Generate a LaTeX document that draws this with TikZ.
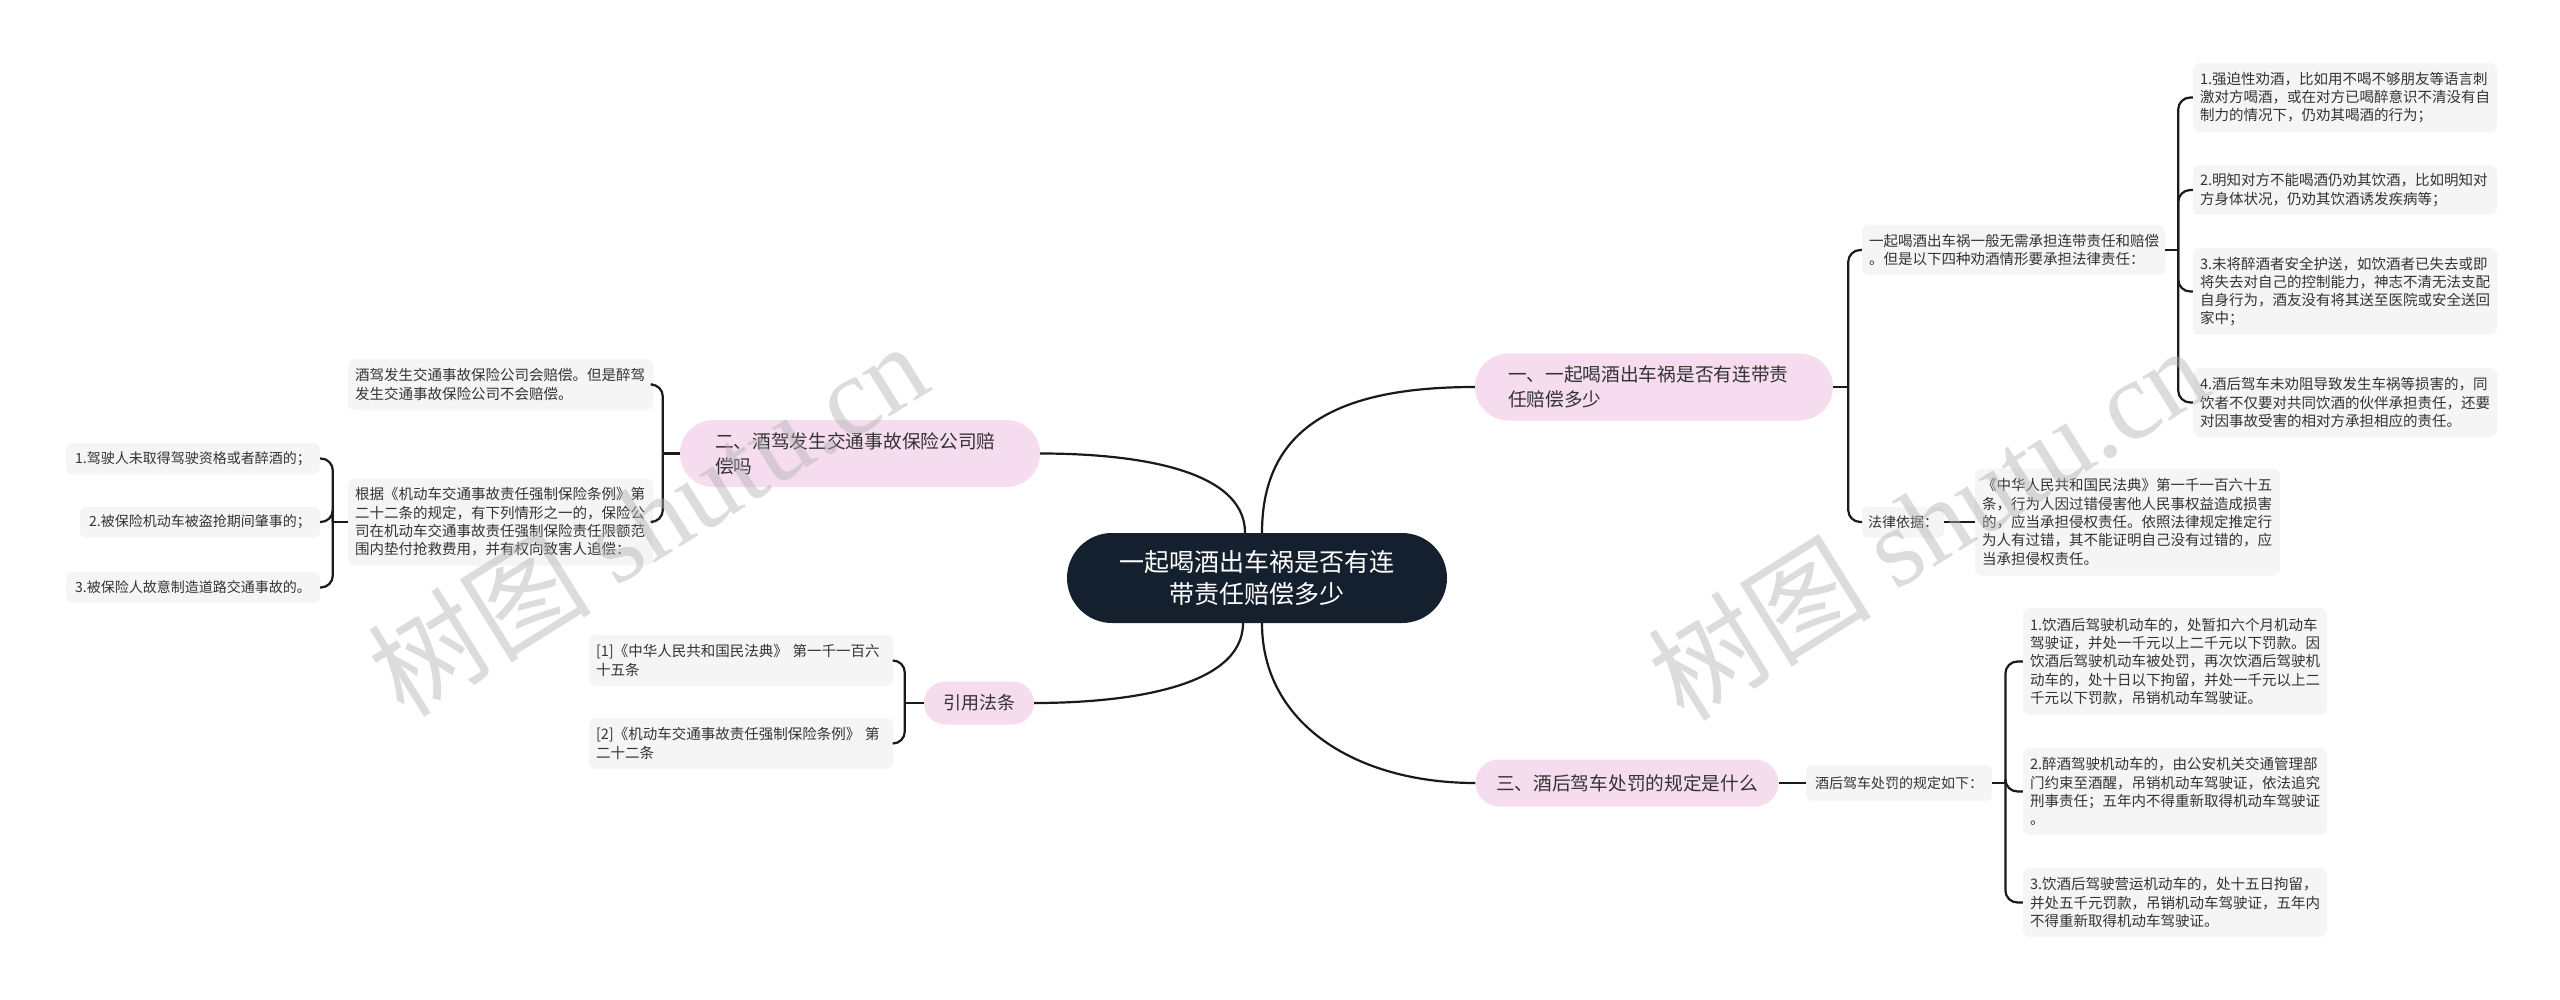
\documentclass[tikz,border=0pt]{standalone}
\usepackage{fontspec}
\setmainfont{Noto Sans CJK SC}
\newfontfamily\wmserif{Liberation Serif}
\usetikzlibrary{calc}
\definecolor{navy}{HTML}{15202F}
\definecolor{pinkfill}{HTML}{F6DCEF}
\definecolor{leaffill}{HTML}{F5F5F5}
\definecolor{linecol}{HTML}{1A1A1A}
\definecolor{txt}{HTML}{333333}
\tikzset{
  conn/.style={draw=linecol, line width=2.2pt},
  brk/.style={conn, rounded corners=12pt},
  leaf/.style={fill=leaffill, rounded corners=7pt, inner xsep=7pt, inner ysep=0pt,
    align=left, text=txt, font=\fontsize{14.5}{18.3}\selectfont},
  smallbox/.style={fill=leaffill, rounded corners=6pt, inner xsep=9pt, inner ysep=0pt,
    minimum height=31pt, text=txt, font=\fontsize{14}{17}\selectfont},
  topic/.style={fill=pinkfill, inner ysep=0pt, text=txt, font=\fontsize{18.7}{25}\selectfont},
  wm/.style={text=gray!60, text opacity=0.45, rotate=32, inner sep=0pt,
    font=\fontsize{112}{112}\selectfont}
}
\begin{document}
\begin{tikzpicture}[x=1pt,y=-1pt]
\useasboundingbox (0,0) rectangle (2560,1000);
\fill[white] (0,0) rectangle (2560,1000);

% central node
\node[fill=navy, rounded corners=45pt, minimum width=380pt, minimum height=90pt,
  align=center, text=white, font=\fontsize{25}{32}\selectfont, inner sep=0pt]
  (c) at (1257,578) {一起喝酒出车祸是否有连\\带责任赔偿多少};

% branch 1
\node[topic, rounded corners=33.5pt, minimum height=67pt, inner xsep=33pt,
  text width=292pt, align=left] (n1) at (1654,387)
  {一、一起喝酒出车祸是否有连带责\\任赔偿多少};
\node[leaf, text width=289pt, minimum height=50pt] (n1a) at (2013.5,250)
  {一起喝酒出车祸一般无需承担连带责任和赔偿\\。但是以下四种劝酒情形要承担法律责任：};
\node[leaf, text width=290pt, minimum height=69pt] (l1) at (2345,97.5)
  {1.强迫性劝酒，比如用不喝不够朋友等语言刺\\激对方喝酒，或在对方已喝醉意识不清没有自\\制力的情况下，仍劝其喝酒的行为；};
\node[leaf, text width=290pt, minimum height=50pt] (l2) at (2345,190)
  {2.明知对方不能喝酒仍劝其饮酒，比如明知对\\方身体状况，仍劝其饮酒诱发疾病等；};
\node[leaf, text width=290pt, minimum height=87pt] (l3) at (2345,291.5)
  {3.未将醉酒者安全护送，如饮酒者已失去或即\\将失去对自己的控制能力，神志不清无法支配\\自身行为，酒友没有将其送至医院或安全送回\\家中；};
\node[leaf, text width=290pt, minimum height=69pt] (l4) at (2345,402.5)
  {4.酒后驾车未劝阻导致发生车祸等损害的，同\\饮者不仅要对共同饮酒的伙伴承担责任，还要\\对因事故受害的相对方承担相应的责任。};
\node[smallbox, anchor=west, inner xsep=6pt] (n1b) at (1862,522) {法律依据：};
\node[leaf, text width=291pt, minimum height=107pt] (n1bl) at (2127.5,522)
  {《中华人民共和国民法典》第一千一百六十五\\条，行为人因过错侵害他人民事权益造成损害\\的，应当承担侵权责任。依照法律规定推定行\\为人有过错，其不能证明自己没有过错的，应\\当承担侵权责任。};

% branch 2
\node[topic, rounded corners=33.5pt, minimum height=67pt, inner xsep=35pt,
  text width=290pt, align=left] (n2) at (860,453.5)
  {二、酒驾发生交通事故保险公司赔\\偿吗};
\node[leaf, text width=291pt, minimum height=51pt] (n2a) at (500.5,384.5)
  {酒驾发生交通事故保险公司会赔偿。但是醉驾\\发生交通事故保险公司不会赔偿。};
\node[leaf, text width=291pt, minimum height=87pt] (n2b) at (500.5,522)
  {根据《机动车交通事故责任强制保险条例》第\\二十二条的规定，有下列情形之一的，保险公\\司在机动车交通事故责任强制保险责任限额范\\围内垫付抢救费用，并有权向致害人追偿：};
\node[smallbox, anchor=east] (c1) at (320,458.5) {1.驾驶人未取得驾驶资格或者醉酒的；};
\node[smallbox, anchor=east] (c2) at (320,522) {2.被保险机动车被盗抢期间肇事的；};
\node[smallbox, anchor=east] (c3) at (320,587.5) {3.被保险人故意制造道路交通事故的。};

% branch refs
\node[topic, rounded corners=21.5pt, minimum height=43pt, minimum width=110pt,
  inner xsep=0pt, font=\fontsize{18}{22}\selectfont] (r) at (979,703) {引用法条};
\node[leaf, text width=290pt, minimum height=51pt] (r1) at (741,660.5)
  {[1]《中华人民共和国民法典》 第一千一百六\\十五条};
\node[leaf, text width=290pt, minimum height=51pt] (r2) at (741,743.5)
  {[2]《机动车交通事故责任强制保险条例》 第\\二十二条};

% branch 3
\node[topic, rounded corners=23.5pt, minimum height=47pt, minimum width=303pt,
  inner xsep=0pt] (n3) at (1627,783) {三、酒后驾车处罚的规定是什么};
\node[smallbox, anchor=west, minimum height=36pt] (n3a) at (1806,783) {酒后驾车处罚的规定如下：};
\node[leaf, text width=290pt, minimum height=107pt] (m1) at (2175,661.5)
  {1.饮酒后驾驶机动车的，处暂扣六个月机动车\\驾驶证，并处一千元以上二千元以下罚款。因\\饮酒后驾驶机动车被处罚，再次饮酒后驾驶机\\动车的，处十日以下拘留，并处一千元以上二\\千元以下罚款，吊销机动车驾驶证。};
\node[leaf, text width=290pt, minimum height=87pt] (m2) at (2175,791.5)
  {2.醉酒驾驶机动车的，由公安机关交通管理部\\门约束至酒醒，吊销机动车驾驶证，依法追究\\刑事责任；五年内不得重新取得机动车驾驶证\\。};
\node[leaf, text width=290pt, minimum height=69pt] (m3) at (2175,902.5)
  {3.饮酒后驾驶营运机动车的，处十五日拘留，\\并处五千元罚款，吊销机动车驾驶证，五年内\\不得重新取得机动车驾驶证。};

% central curves
\draw[conn] ($(c.north)+(5,0)$) .. controls ($(c.north)+(5,-110)$) and ($(n1.west)+(-130,0)$) .. (n1.west);
\draw[conn] ($(c.south)+(5,0)$) .. controls ($(c.south)+(5,100)$) and ($(n3.west)+(-120,0)$) .. (n3.west);
\draw[conn] ($(c.north)+(-12,0)$) .. controls ($(c.north)+(-12,-65)$) and ($(n2.east)+(90,0)$) .. (n2.east);
\draw[conn] ($(c.south)+(-14,0)$) .. controls ($(c.south)+(-14,65)$) and ($(r.east)+(90,0)$) .. (r.east);

% branch 1 brackets
\coordinate (j1) at ($(n1.east)+(15,0)$);
\draw[conn] (n1.east) -- (j1);
\draw[brk] (j1) |- (n1a.west);
\draw[brk] (j1) |- (n1b.west);
\draw[conn] (n1b.east) -- (n1bl.west);
\coordinate (j1a) at ($(n1a.east)+(13,0)$);
\draw[conn] (n1a.east) -- (j1a);
\foreach \k in {l1,l2,l3,l4} { \draw[brk] (j1a) |- (\k.west); }

% branch 2 brackets
\coordinate (j2) at ($(n2.west)+(-17,0)$);
\draw[conn] (n2.west) -- (j2);
\draw[brk] (j2) |- (n2a.east);
\draw[brk] (j2) |- (n2b.east);
\coordinate (j2b) at ($(n2b.west)+(-15,0)$);
\draw[conn] (n2b.west) -- (j2b);
\foreach \k in {c1,c2,c3} { \draw[brk] (j2b) |- (\k.east); }

% refs bracket
\coordinate (jr) at ($(r.west)+(-19,0)$);
\draw[conn] (r.west) -- (jr);
\draw[brk] (jr) |- (r1.east);
\draw[brk] (jr) |- (r2.east);

% branch 3 brackets
\draw[conn] (n3.east) -- (n3a.west);
\coordinate (j3a) at ($(n3a.east)+(13,0)$);
\draw[conn] (n3a.east) -- (j3a);
\foreach \k in {m1,m2,m3} { \draw[brk] (j3a) |- (\k.west); }

% watermarks
\node[wm] (wm1) at (647,518) {树图 {\wmserif shutu.cn}};
\node[wm] (wm2) at (1927,522) {树图 {\wmserif shutu.cn}};
\end{tikzpicture}
\end{document}
